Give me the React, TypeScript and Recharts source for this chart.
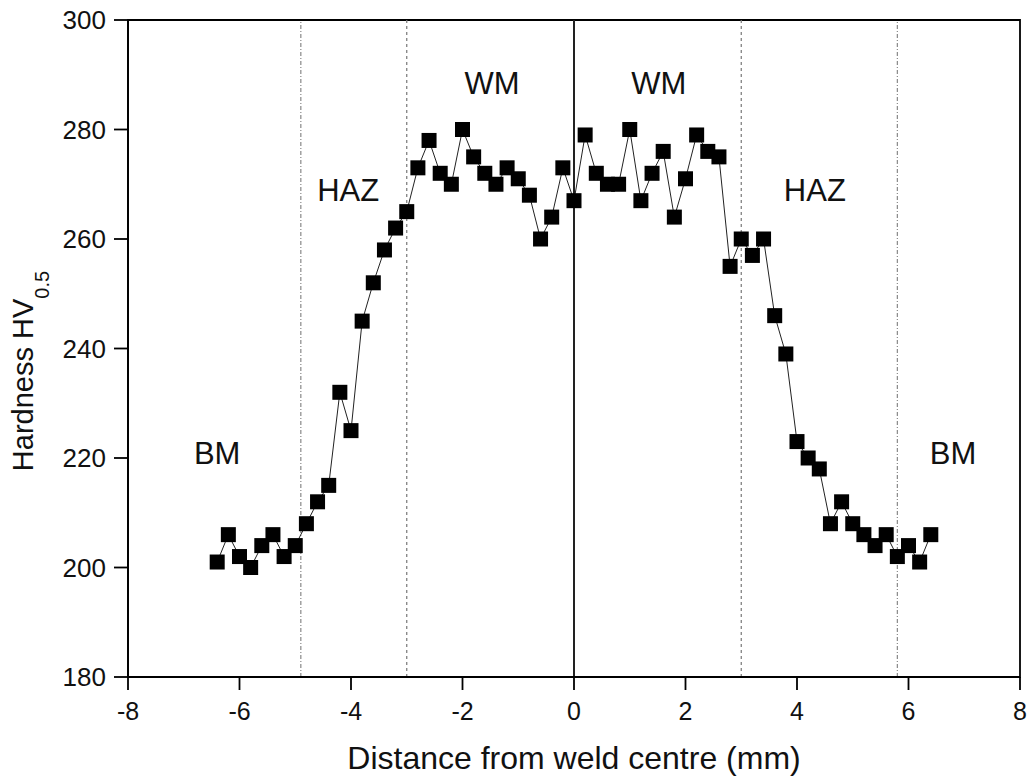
import {
  LineChart,
  Line,
  XAxis,
  YAxis,
  ReferenceLine,
  ReferenceArea,
  ReferenceDot,
  Label,
} from "recharts";

// distance from weld centre (mm)
const distance = [
  -6.4, -6.2, -6.0, -5.8, -5.6, -5.4, -5.2, -5.0, -4.8, -4.6, -4.4, -4.2, -4.0,
  -3.8, -3.6, -3.4, -3.2, -3.0, -2.8, -2.6, -2.4, -2.2, -2.0, -1.8, -1.6, -1.4,
  -1.2, -1.0, -0.8, -0.6, -0.4, -0.2, 0.0, 0.2, 0.4, 0.6, 0.8, 1.0, 1.2, 1.4,
  1.6, 1.8, 2.0, 2.2, 2.4, 2.6, 2.8, 3.0, 3.2, 3.4, 3.6, 3.8, 4.0, 4.2, 4.4,
  4.6, 4.8, 5.0, 5.2, 5.4, 5.6, 5.8, 6.0, 6.2, 6.4,
];

// hardness HV0.5
const hardness = [
  201, 206, 202, 200, 204, 206, 202, 204, 208, 212, 215, 232, 225,
  245, 252, 258, 262, 265, 273, 278, 272, 270, 280, 275, 272, 270,
  273, 271, 268, 260, 264, 273, 267, 279, 272, 270, 270, 280, 267, 272,
  276, 264, 271, 279, 276, 275, 255, 260, 257, 260, 246, 239, 223, 220, 218,
  208, 212, 208, 206, 204, 206, 202, 204, 201, 206,
];

const xTicks = [-8, -6, -4, -2, 0, 2, 4, 6, 8];
const xMinorTicks = [-7, -5, -3, -1, 1, 3, 5, 7];
const yTicks = [180, 200, 220, 240, 260, 280, 300];
const yMinorTicks = [190, 210, 230, 250, 270, 290];

// zone boundaries
const outerBounds = [-4.9, 5.8];
const innerBounds = [-3, 3];

const zoneLabels = [
  { text: "BM", x: -6.4, y: 221 },
  { text: "HAZ", x: -4.05, y: 269 },
  { text: "WM", x: -1.47, y: 288.5 },
  { text: "WM", x: 1.52, y: 288.5 },
  { text: "HAZ", x: 4.32, y: 269 },
  { text: "BM", x: 6.8, y: 221 },
];

const data = distance.map((x, i) => ({ x, hv: hardness[i] }));

const FONT = "'Liberation Sans', Arial, sans-serif";
const xTickStyle = { fontSize: 25, fill: "#111", fontFamily: FONT };
const yTickStyle = { fontSize: 26, fill: "#111", fontFamily: FONT };

const Square = (props: any) => {
  const { cx, cy, index } = props;
  if (cx == null || cy == null) return <g key={index} />;
  return <rect key={index} x={cx - 7.5} y={cy - 7.5} width={15} height={15} fill="#000" />;
};

export default function App() {
  return (
    <div style={{ position: "absolute", left: 0, top: 0, background: "#fff" }}>
      <LineChart
        width={1032}
        height={782}
        data={data}
        margin={{ top: 20, right: 12, left: 68, bottom: 0 }}
      >
        <XAxis
          dataKey="x"
          type="number"
          domain={[-8, 8]}
          ticks={xTicks}
          interval={0}
          allowDataOverflow
          stroke="#000"
          strokeWidth={1.8}
          tickSize={13}
          tickMargin={12}
          tick={xTickStyle}
          height={105}
        >
          <Label
            content={(p: any) => {
              const vb = p.viewBox;
              return (
                <text
                  x={vb.x + vb.width / 2}
                  y={769}
                  textAnchor="middle"
                  fontSize={32}
                  fontFamily={FONT}
                  fill="#111"
                >
                  Distance from weld centre (mm)
                </text>
              );
            }}
          />
        </XAxis>
        <XAxis
          xAxisId="minor"
          dataKey="x"
          type="number"
          domain={[-8, 8]}
          ticks={xMinorTicks}
          interval={0}
          axisLine={false}
          stroke="#000"
          strokeWidth={1.8}
          tickSize={7}
          tick={false}
          height={0}
        />
        <YAxis
          type="number"
          domain={[180, 300]}
          ticks={yTicks}
          interval={0}
          allowDataOverflow
          stroke="#000"
          strokeWidth={1.8}
          tickSize={14}
          tickMargin={8}
          tick={yTickStyle}
          width={60}
        >
          <Label
            content={() => {
              const cy = 371;
              return (
                <text
                  x={33}
                  y={cy}
                  transform={`rotate(-90, 33, ${cy})`}
                  textAnchor="middle"
                  fontSize={29}
                  fontFamily={FONT}
                  fill="#111"
                >
                  Hardness HV
                  <tspan fontSize={20} dy={16}>0.5</tspan>
                </text>
              );
            }}
          />
        </YAxis>
        <YAxis
          yAxisId="minor"
          type="number"
          domain={[180, 300]}
          ticks={yMinorTicks}
          interval={0}
          axisLine={false}
          stroke="#000"
          strokeWidth={1.8}
          tickSize={7}
          tick={false}
          width={0}
        />
        <ReferenceArea
          x1={-8}
          x2={8}
          y1={180}
          y2={300}
          fill="none"
          stroke="#000"
          strokeWidth={1.8}
          ifOverflow="visible"
        />
        {outerBounds.map((b) => (
          <ReferenceLine
            key={`o${b}`}
            x={b}
            stroke="#888"
            strokeWidth={1.2}
            strokeDasharray="4 2 1 2"
          />
        ))}
        {innerBounds.map((b) => (
          <ReferenceLine
            key={`i${b}`}
            x={b}
            stroke="#777"
            strokeWidth={1.2}
            strokeDasharray="3 3"
          />
        ))}
        <ReferenceLine x={0} stroke="#222" strokeWidth={2} />
        {zoneLabels.map((z, i) => (
          <ReferenceDot
            key={i}
            x={z.x}
            y={z.y}
            r={0}
            fill="none"
            stroke="none"
            label={{
              value: z.text,
              position: "center",
              fontSize: 31,
              fill: "#111",
              fontFamily: FONT,
            }}
          />
        ))}
        <Line
          dataKey="hv"
          type="linear"
          stroke="#222"
          strokeWidth={1}
          dot={Square}
          activeDot={false}
          isAnimationActive={false}
        />
      </LineChart>
    </div>
  );
}
